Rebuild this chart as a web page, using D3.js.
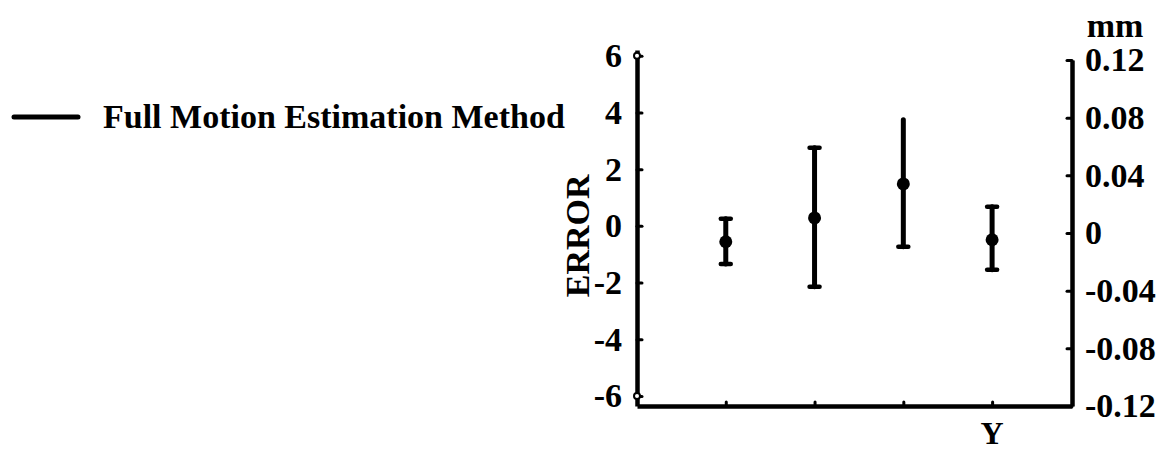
<!DOCTYPE html>
<html>
<head>
<meta charset="utf-8">
<script src="https://cdn.jsdelivr.net/npm/d3@7"></script>
<style>
  body { margin: 0; background: #fff; }
  text { font-family: "Liberation Serif", "Times New Roman", serif; font-weight: bold; }
</style>
</head>
<body>
<div id="chart"></div>
<script>
const width = 1166
const height = 450
const fontSize = 34

// datos
const categories = [1, 2, 3, 4]
const means = [-0.56, 0.28, 1.48, -0.49]
const upper = [0.25, 2.75, 3.74, 0.67]
const lower = [-1.34, -2.15, -0.74, -1.55]
const topCap = [true, true, false, true]
const leftTicks = [-6, -4, -2, 0, 2, 4, 6]
const rightTicks = [-0.12, -0.08, -0.04, 0, 0.04, 0.08, 0.12]
const legendLabel = "Full Motion Estimation Method"

const svg = d3.select("#chart").append("svg").attr("width", width).attr("height", height)

// escalas
const x = d3.scaleLinear().domain([0, 4.9]).range([637, 1072])
const y = d3.scaleLinear().domain([-6.35, 6.2]).range([406, 50])
const y2 = d3.scaleLinear().domain([-0.12, 0.12]).range([406, 60])

// ejes (con guion normal para los negativos, como en el original)
const yAxis = d3.axisLeft(y).tickValues(leftTicks).tickSizeInner(-5).tickSizeOuter(0).tickPadding(15)
    .tickFormat(d => String(d))
const y2Axis = d3.axisRight(y2).tickValues(rightTicks).tickSizeInner(-5).tickSizeOuter(0).tickPadding(13)
    .tickFormat(d => d === 0 ? "0" : d.toFixed(2))
const xAxis = d3.axisBottom(x).tickValues(categories).tickSizeInner(-4).tickSizeOuter(0).tickFormat("")

const yAxisGroup = svg.append("g").attr("transform", `translate(${x(0)},0)`).call(yAxis)
const y2AxisGroup = svg.append("g").attr("transform", `translate(${x.range()[1]},0)`).call(y2Axis)
const xAxisGroup = svg.append("g").attr("transform", `translate(0,${y.range()[0]})`).call(xAxis)

svg.selectAll(".domain").attr("stroke", "#000").attr("stroke-width", 4.5)
svg.selectAll(".tick line").attr("stroke", "#000").attr("stroke-width", 3).attr("stroke-linecap", "round")
svg.selectAll(".tick text").attr("font-size", fontSize).attr("fill", "#000")
    .attr("font-family", "Liberation Serif").attr("font-weight", "bold")

// circulitos en los extremos del eje izquierdo
yAxisGroup.selectAll(".endmark").data([-6, 6]).enter().append("circle")
    .attr("cx", 0).attr("cy", d => y(d)).attr("r", 3)
    .attr("fill", "#fff").attr("stroke", "#000").attr("stroke-width", 2)

// titulos de ejes
svg.append("text").attr("transform", `translate(589,${y(0) + 10}) rotate(-90)`)
    .attr("text-anchor", "middle").attr("font-size", fontSize).text("ERROR")
svg.append("text").attr("x", 1115).attr("y", 37).attr("text-anchor", "middle")
    .attr("font-size", fontSize).text("mm")
svg.append("text").attr("x", x(4)).attr("y", 444).attr("text-anchor", "middle")
    .attr("font-size", fontSize - 2).text("Y")

// barras de error
const bars = svg.append("g").selectAll("g").data(categories).enter().append("g")

bars.append("line")
    .attr("x1", d => x(d)).attr("x2", d => x(d))
    .attr("y1", (d, i) => y(upper[i])).attr("y2", (d, i) => y(lower[i]))
    .attr("stroke", "#000").attr("stroke-width", 5).attr("stroke-linecap", "round")

bars.filter((d, i) => topCap[i]).append("line")
    .attr("x1", d => x(d) - 5).attr("x2", d => x(d) + 5)
    .attr("y1", d => y(upper[d - 1])).attr("y2", d => y(upper[d - 1]))
    .attr("stroke", "#000").attr("stroke-width", 4.5).attr("stroke-linecap", "round")

bars.append("line")
    .attr("x1", d => x(d) - 5).attr("x2", d => x(d) + 5)
    .attr("y1", (d, i) => y(lower[i])).attr("y2", (d, i) => y(lower[i]))
    .attr("stroke", "#000").attr("stroke-width", 4.5).attr("stroke-linecap", "round")

bars.append("circle")
    .attr("cx", d => x(d)).attr("cy", (d, i) => y(means[i])).attr("r", 6.5)
    .attr("fill", "#000")

// leyenda
const legend = svg.append("g").attr("transform", "translate(14,117)")
legend.append("line").attr("x1", 0).attr("x2", 64).attr("y1", 0).attr("y2", 0)
    .attr("stroke", "#000").attr("stroke-width", 5).attr("stroke-linecap", "round")
legend.append("text").attr("x", 89).attr("y", 11).attr("font-size", fontSize).text(legendLabel)
</script>
</body>
</html>
